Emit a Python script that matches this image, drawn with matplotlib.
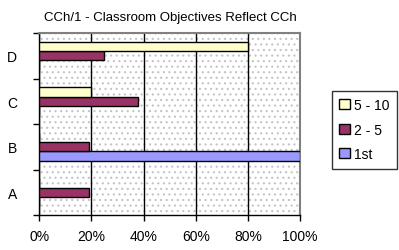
import numpy as np
import matplotlib
matplotlib.use("Agg")
import matplotlib.pyplot as plt
from matplotlib.ticker import FixedLocator, PercentFormatter

categories = ['A', 'B', 'C', 'D']
series_names = ['1st', '2 - 5', '5 - 10']
first = [0, 100, 0, 0]
two_five = [19, 19, 38, 25]
five_ten = [0, 0, 20, 80]
colors = ['#9999FF', '#993366', '#FFFFCC']

plt.rcParams['font.family'] = ['Liberation Sans', 'DejaVu Sans']
plt.rcParams['hatch.linewidth'] = 0.8

fig = plt.figure(figsize=(3.99, 2.51), dpi=100)
ax = fig.add_axes([0.0985, 0.1394, 0.6535, 0.7251])

# dotted background like the original
ax.add_patch(plt.Rectangle((0, 0), 1, 1, transform=ax.transAxes,
                           facecolor='white', edgecolor='#c4c4c4', linewidth=0,
                           hatch='...', zorder=0))
ax.set_facecolor('white')

y = np.arange(len(categories))
h = 0.205
data = [first, two_five, five_ten]
bars = []
for i, vals in enumerate(data):
    b = ax.barh(y + (i - 1) * h, vals, height=h, color=colors[i],
                edgecolor='black', linewidth=1, label=series_names[i], zorder=3)
    bars.append(b)

ax.set_xlim(0, 100)
ax.set_ylim(-0.5, len(categories) - 0.5)
ax.xaxis.set_major_locator(FixedLocator([0, 20, 40, 60, 80, 100]))
ax.xaxis.set_major_formatter(PercentFormatter(decimals=0))
ax.grid(axis='x', color='black', linewidth=1, zorder=1)

ax.yaxis.set_major_locator(FixedLocator(np.arange(-0.5, len(categories), 1)))
ax.yaxis.set_major_formatter(plt.NullFormatter())
ax.set_yticks(y, minor=True)
ax.set_yticklabels(categories, minor=True)
ax.tick_params(axis='y', which='minor', length=0, pad=16, labelsize=10)
ax.tick_params(axis='y', which='major', length=4, width=1)
ax.tick_params(axis='x', length=4, width=1, labelsize=10, pad=6)

for s in ['top', 'right']:
    ax.spines[s].set_color('#808080')
    ax.spines[s].set_linewidth(1.5)
for s in ['left', 'bottom']:
    ax.spines[s].set_color('black')
    ax.spines[s].set_linewidth(1)

fig.text(0.426, 0.93, 'CCh/1 - Classroom Objectives Reflect CCh',
         ha='center', va='center', fontsize=9.5)

handles = bars[::-1]
labels = series_names[::-1]
leg = fig.legend(handles, labels, loc='upper left', bbox_to_anchor=(0.831, 0.635),
                 borderaxespad=0, frameon=True, fancybox=False, edgecolor='black',
                 fontsize=10, handlelength=0.75, handleheight=0.75, handletextpad=0.3,
                 labelspacing=0.75, borderpad=0.55)
leg.get_frame().set_linewidth(1)

fig.savefig('out.png', dpi=100)
